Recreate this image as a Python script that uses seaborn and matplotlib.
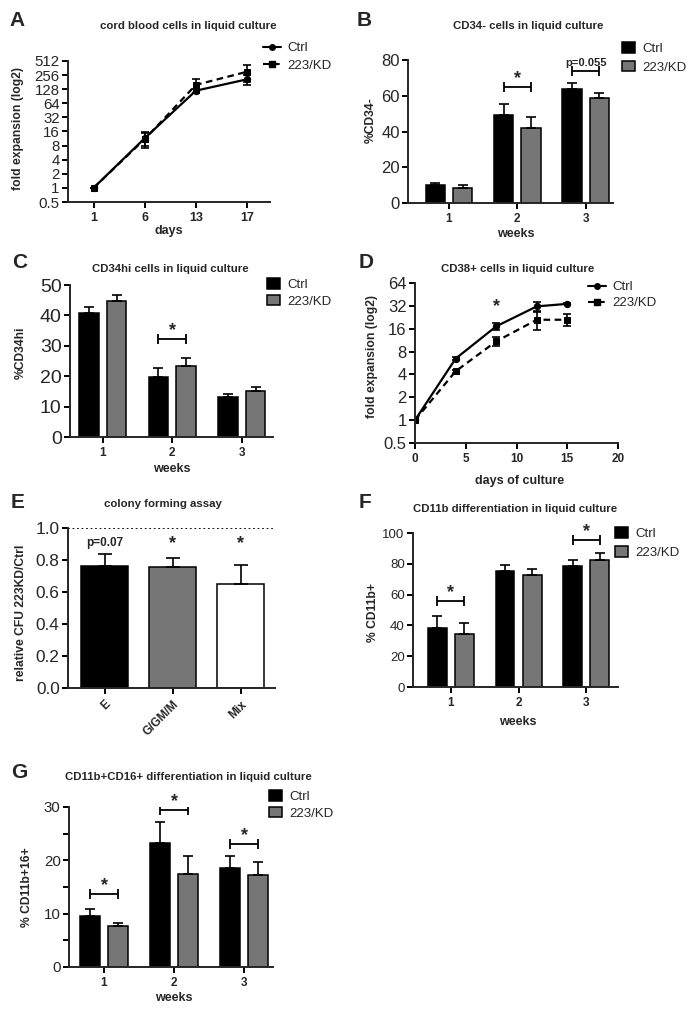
import numpy as np
import pandas as pd
import matplotlib
matplotlib.use("Agg")
import matplotlib.pyplot as plt
from matplotlib.patches import Patch
from matplotlib.lines import Line2D
from matplotlib.ticker import NullLocator, MultipleLocator
import seaborn as sns

# 데이터
groups = ["Ctrl", "223/KD"]
weeks = ["1", "2", "3"]

# A: cord blood cells in liquid culture
a_days = ["1", "6", "13", "17"]
a_ctrl = [1, 11.5, 119, 208]
a_ctrl_err = [0, 3.8, 12, 50]
a_kd = [1, 11.0, 158, 302]
a_kd_err = [0, 4.0, 50, 120]

# B: CD34- cells
b_ctrl = [9.9, 49.2, 63.5]
b_ctrl_err = [1.3, 6.1, 3.8]
b_kd = [8.6, 42.0, 58.9]
b_kd_err = [1.3, 6.2, 2.4]

# C: CD34hi cells
c_ctrl = [40.7, 19.9, 13.0]
c_ctrl_err = [2.2, 2.7, 1.1]
c_kd = [44.7, 23.2, 15.0]
c_kd_err = [1.9, 2.9, 1.6]

# D: CD38+ cells
d_days = [0, 4, 8, 12, 15]
d_ctrl = [1, 6.45, 17.2, 31.5, 34]
d_ctrl_err = [0, 0.3, 1.7, 4.0, 0.5]
d_kd = [1, 4.4, 10.9, 21, 21]
d_kd_err = [0, 0.2, 1.4, 5.5, 3.8]

# E: colony forming assay
e_types = ["E", "G/GM/M", "Mix"]
e_vals = [0.76, 0.754, 0.65]
e_err = [0.08, 0.056, 0.117]
e_marks = ["p=0.07", "*", "*"]

# F: CD11b
f_ctrl = [38.3, 75.1, 78.4]
f_ctrl_err = [7.6, 3.9, 3.9]
f_kd = [34.2, 72.5, 82.7]
f_kd_err = [7.4, 4.3, 4.3]

# G: CD11b+CD16+
g_ctrl = [9.56, 23.3, 18.6]
g_ctrl_err = [1.3, 3.9, 2.2]
g_kd = [7.69, 17.4, 17.2]
g_kd_err = [0.6, 3.5, 2.4]

W, H = 697, 1014
GRAY = "#767676"
pal = {"Ctrl": "black", "223/KD": GRAY}
TITLE_SIZE = 8.2
LABEL_SIZE = 8.7
LEGEND_SIZE = 9.5
STAR_SIZE = 13

sns.set_style("ticks")
plt.rcParams["font.family"] = ["Liberation Sans", "DejaVu Sans"]
plt.rcParams["axes.linewidth"] = 1.4

fig = plt.figure(figsize=(W / 100, H / 100), dpi=100)


def rect(l, t, r, b):
    return [l / W, 1 - b / H, (r - l) / W, (b - t) / H]


def fpos(x, y):
    return (x / W, 1 - y / H)


def make_axes(l, t, r, b, ysize, xsize=8.5):
    ax = fig.add_axes(rect(l, t, r, b))
    sns.despine(ax=ax)
    ax.tick_params(axis="both", which="both", width=1.4, length=4.5, color="black")
    ax.tick_params(axis="y", labelsize=ysize, pad=1.5)
    ax.tick_params(axis="x", labelsize=xsize, pad=3)
    return ax


def labels(ax, letter, lpos, title, tpos, ylabel, ypos, xlabel=None, xpos=None):
    fig.text(*fpos(*lpos), letter, fontsize=15, fontweight="bold", ha="left", va="center")
    fig.text(*fpos(*tpos), title, fontsize=TITLE_SIZE, fontweight="bold", ha="center", va="center")
    ax.set_ylabel(ylabel, fontsize=LABEL_SIZE, fontweight="bold", va="center")
    ax.yaxis.set_label_coords(*fpos(*ypos), transform=fig.transFigure)
    if xlabel:
        ax.set_xlabel(xlabel, fontsize=9, fontweight="bold", va="center")
        ax.xaxis.set_label_coords(*fpos(*xpos), transform=fig.transFigure)
    else:
        ax.set_xlabel("")


def bold_xticks(ax):
    for lab in ax.get_xticklabels():
        lab.set_fontweight("bold")


def bar_panel(ax, ctrl, ctrl_err, kd, kd_err):
    df = pd.DataFrame({
        "week": weeks * 2,
        "group": ["Ctrl"] * len(ctrl) + ["223/KD"] * len(kd),
        "value": ctrl + kd,
    })
    sns.barplot(df, x="week", y="value", hue="group", hue_order=groups,
                palette=pal, edgecolor="black", linewidth=1.1, width=0.8,
                gap=0.3, errorbar=None, legend=False, ax=ax)
    for cont, err in zip(ax.containers, [ctrl_err, kd_err]):
        xs = [p.get_x() + p.get_width() / 2 for p in cont]
        hs = [p.get_height() for p in cont]
        ax.errorbar(xs, hs, yerr=[np.zeros(len(err)), err], fmt="none",
                    ecolor="black", elinewidth=1.2, capsize=3.5, capthick=1.2)
    bold_xticks(ax)


def bracket(ax, i, y, text, size=STAR_SIZE, off=0):
    x0 = ax.containers[0][i]
    x1 = ax.containers[1][i]
    c0 = x0.get_x() + x0.get_width() / 2
    c1 = x1.get_x() + x1.get_width() / 2
    mid = (c0 + c1) / 2
    ax.errorbar([mid], [y], xerr=[(c1 - c0) / 2], fmt="none", ecolor="black",
                elinewidth=1.3, capsize=3.5, capthick=1.3)
    ax.annotate(text, (mid, y), xytext=(0, off), textcoords="offset points",
                ha="center", va="bottom", fontsize=size, fontweight="bold")


def bar_legend(lx, ly, spacing):
    handles = [Patch(facecolor=pal[g], edgecolor="black", linewidth=1.1) for g in groups]
    fig.legend(handles, groups, loc="upper left", bbox_to_anchor=fpos(lx, ly),
               frameon=False, fontsize=LEGEND_SIZE, handlelength=1.0, handleheight=0.85,
               handletextpad=0.55, labelspacing=spacing, borderaxespad=0, borderpad=0)


def line_legend(lx, ly, spacing):
    handles = [
        Line2D([], [], color="black", ls="-", lw=1.5, marker="o", ms=4),
        Line2D([], [], color="black", ls=(0, (3, 2)), lw=1.5, marker="s", ms=4),
    ]
    fig.legend(handles, groups, loc="upper left", bbox_to_anchor=fpos(lx, ly),
               frameon=False, fontsize=LEGEND_SIZE, handlelength=1.35,
               handletextpad=0.5, labelspacing=spacing, borderaxespad=0, borderpad=0)


def line_panel(ax, x, ctrl, ctrl_err, kd, kd_err):
    df = pd.DataFrame({
        "x": list(x) * 2,
        "group": ["Ctrl"] * len(ctrl) + ["223/KD"] * len(kd),
        "value": ctrl + kd,
    })
    sns.lineplot(df, x="x", y="value", hue="group", style="group",
                 hue_order=groups, style_order=groups,
                 palette={"Ctrl": "black", "223/KD": "black"},
                 dashes={"Ctrl": "", "223/KD": (3, 2)},
                 markers={"Ctrl": "o", "223/KD": "s"},
                 markersize=4.5, markeredgecolor="black", linewidth=1.6,
                 errorbar=None, legend=False, ax=ax)
    for vals, err in [(ctrl, ctrl_err), (kd, kd_err)]:
        ax.errorbar(list(x), vals, yerr=err, fmt="none", ecolor="black",
                    elinewidth=1.2, capsize=3, capthick=1.2)
    ax.set_yscale("log", base=2)
    ax.yaxis.set_minor_locator(NullLocator())


# ---- A ----
axA = make_axes(68, 61, 270, 202, 10.8, 9)
line_panel(axA, np.arange(len(a_days)), a_ctrl, a_ctrl_err, a_kd, a_kd_err)
a_ticks = [0.5, 1, 2, 4, 8, 16, 32, 64, 128, 256, 512]
axA.set_yticks(a_ticks, [f"{t:g}" for t in a_ticks])
axA.set_ylim(0.5, 512)
axA.set_xticks(np.arange(len(a_days)), a_days)
axA.set_xlim(-0.5, 3.45)
bold_xticks(axA)
labels(axA, "A", (9, 20), "cord blood cells in liquid culture", (188, 26),
       "fold expansion (log2)", (18, 129), "days", (169, 231))
line_legend(263, 42, 0.4)

# ---- B ----
axB = make_axes(408, 60, 613, 203, 12)
bar_panel(axB, b_ctrl, b_ctrl_err, b_kd, b_kd_err)
axB.set_ylim(0, 80)
axB.set_yticks([0, 20, 40, 60, 80])
axB.set_xlim(-0.6, 2.4)
bracket(axB, 1, 64.7, "*")
bracket(axB, 2, 74, "p=0.055", size=8, off=2)
labels(axB, "B", (357, 20), "CD34- cells in liquid culture", (528, 26),
       "%CD34-", (371, 120), "weeks", (516, 234))
bar_legend(622, 42, 0.45)

# ---- C ----
axC = make_axes(70, 285, 273, 437, 14)
bar_panel(axC, c_ctrl, c_ctrl_err, c_kd, c_kd_err)
axC.set_ylim(0, 50)
axC.set_yticks([0, 10, 20, 30, 40, 50])
axC.set_xlim(-0.47, 2.45)
bracket(axC, 1, 32.2, "*")
labels(axC, "C", (12, 262), "CD34hi cells in liquid culture", (170, 269),
       "%CD34hi", (21, 353), "weeks", (172, 469))
bar_legend(267, 278, 0.3)

# ---- D ----
axD = make_axes(415, 283, 618, 443, 12)
line_panel(axD, d_days, d_ctrl, d_ctrl_err, d_kd, d_kd_err)
d_ticks = [0.5, 1, 2, 4, 8, 16, 32, 64]
axD.set_yticks(d_ticks, [f"{t:g}" for t in d_ticks])
axD.set_ylim(0.5, 64)
axD.set_xlim(0, 20)
axD.set_xticks([0, 5, 10, 15, 20])
bold_xticks(axD)
axD.annotate("*", (8, 24), ha="center", va="bottom", fontsize=STAR_SIZE, fontweight="bold")
labels(axD, "D", (359, 262), "CD38+ cells in liquid culture", (518, 269),
       "fold expansion (log2)", (372, 357), "days of culture", (520, 481))
line_legend(588, 281, 0.3)

# ---- E ----
axE = make_axes(68, 528, 275, 688, 12.4)
dfE = pd.DataFrame({"type": e_types, "value": e_vals})
sns.barplot(dfE, x="type", y="value", hue="type", palette=["black", GRAY, "white"],
            edgecolor="black", linewidth=1.1, width=0.69, errorbar=None,
            legend=False, ax=axE)
e_x = [p.get_x() + p.get_width() / 2 for p in axE.patches]
axE.errorbar(e_x, e_vals, yerr=[np.zeros(len(e_err)), e_err], fmt="none",
             ecolor="black", elinewidth=1.2, capsize=5, capthick=1.2)
axE.axhline(1.0, ls=(0, (1, 1.5)), color="black", lw=1.3)
axE.set_ylim(0, 1.0)
axE.set_yticks([0.0, 0.2, 0.4, 0.6, 0.8, 1.0])
axE.set_xlim(-0.54, 2.5)
axE.set_xticks(range(len(e_types)))
axE.set_xticklabels(e_types, rotation=45, ha="right", rotation_mode="anchor")
bold_xticks(axE)
for xi, m in zip(e_x, e_marks):
    if m == "*":
        axE.annotate(m, (xi, 0.85), ha="center", va="bottom", fontsize=STAR_SIZE, fontweight="bold")
    else:
        axE.annotate(m, (xi, 0.868), ha="center", va="bottom", fontsize=8.5, fontweight="bold")
labels(axE, "E", (11, 502), "colony forming assay", (163, 504),
       "relative CFU 223KD/Ctrl", (21, 613))

# ---- F ----
axF = make_axes(413, 533, 618, 687, 9.5)
bar_panel(axF, f_ctrl, f_ctrl_err, f_kd, f_kd_err)
axF.set_ylim(0, 100)
axF.set_yticks([0, 20, 40, 60, 80, 100])
axF.set_xlim(-0.56, 2.47)
bracket(axF, 0, 55.8, "*")
bracket(axF, 2, 95.2, "*")
labels(axF, "F", (359, 502), "CD11b differentiation in liquid culture", (515, 509),
       "% CD11b+", (373, 612), "weeks", (518, 722))
bar_legend(615, 527, 0.5)

# ---- G ----
axG = make_axes(69, 807, 273, 967, 10.8)
bar_panel(axG, g_ctrl, g_ctrl_err, g_kd, g_kd_err)
axG.set_ylim(0, 30)
axG.set_yticks([0, 10, 20, 30])
axG.yaxis.set_minor_locator(MultipleLocator(5))
axG.tick_params(axis="y", which="minor", length=4.5, width=1.4)
axG.set_xlim(-0.5, 2.41)
bracket(axG, 0, 13.6, "*")
bracket(axG, 1, 29.5, "*")
bracket(axG, 2, 23.1, "*")
labels(axG, "G", (11, 773), "CD11b+CD16+ differentiation in liquid culture", (188, 777),
       "% CD11b+16+", (27, 887), "weeks", (174, 998))
bar_legend(269, 790, 0.3)

fig.savefig("out.png", dpi=100)
